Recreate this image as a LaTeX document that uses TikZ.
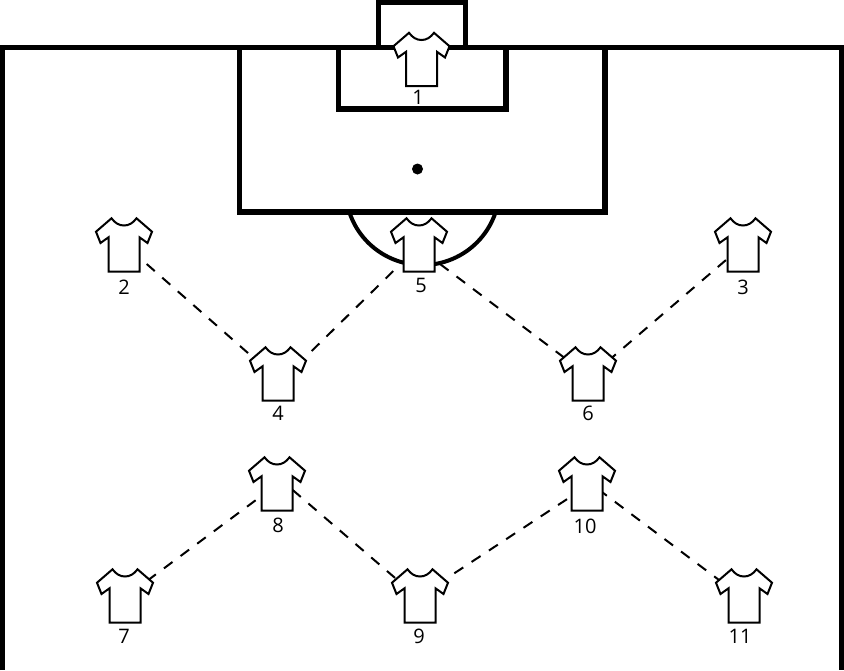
\documentclass[tikz,border=0pt]{standalone}
\usepackage{fontspec}
\setmainfont{Open Sans}
\tikzset{
  pitchline/.style={line width=5.2pt,miter limit=10},
  passline/.style={line width=2pt,dash pattern=on 10.7pt off 10pt},
  anchorpt/.style={circle,inner sep=0pt,minimum size=0pt},
  numlabel/.style={inner sep=0pt,font=\fontsize{20}{22}\selectfont},
  shirt/.pic={
    \draw[line width=2pt,fill=white,line join=miter]
      (-12.5,-26.7) .. controls (-9,-22) and (-5,-19.5) .. (0,-19.5)
      .. controls (5,-19.5) and (9,-22) .. (12.5,-26.7)
      -- (28,-13.3) -- (23.5,-2) -- (15.5,-7.7) -- (15.5,26.7)
      -- (-15.5,26.7) -- (-15.5,-7.7) -- (-23.5,-2) -- (-28,-13.3) -- cycle;
  }
}
\begin{document}
\begin{tikzpicture}[x=1pt,y=-1pt]
  \useasboundingbox (0,0) rectangle (844,670);
  % pitch
  \draw[pitchline] (2.5,670) -- (2.5,47.5) -- (842,47.5) -- (842,670);
  \draw[pitchline] (378.7,47) -- (378.7,2.3) -- (465.3,2.3) -- (465.3,47);
  \draw[pitchline] (239.5,47) -- (239.5,212) -- (605,212) -- (605,47);
  \draw[pitchline] (338.5,47) -- (338.5,109) -- (506,109) -- (506,47);
  \fill (417.5,169) circle (5.5pt);
  \draw[line width=4pt] (350,214) arc[start angle=199.7,end angle=340.3,x radius=77,y radius=-77];
  % players
  \foreach \n/\x/\y/\lx/\ly in {1/421.5/59.5/418/97,2/124/245/124/287,3/743/245/743/287,
    4/278/374/278/413,5/419/245/421/285,6/588/374/588/413,7/125/596/124/636,
    8/277/484/278/525,9/420/596/419/636,10/587/484/585/526,11/744/596/740/636}{
    \node[anchorpt] (p\n) at (\x,\y) {};
    \node[numlabel] (n\n) at (\lx,\ly) {\n};
  }
  % passing lanes
  \foreach \a/\ax/\ay/\b/\bx/\by in {2/22.7/19/4/-29.7/-20.7,4/33.7/-23/5/-25.7/26,
    5/21/19/6/-22/-15,6/19.7/-12.7/3/-17/15,7/22.3/-15.3/8/-21/16,
    8/15.7/6/9/-21.7/-15.3,9/34.3/-22.7/10/-18.7/14.3,10/11.3/5.3/11/-21/-13}{
    \draw[passline] ([shift={(\ax,\ay)}]p\a.center) -- ([shift={(\bx,\by)}]p\b.center);
  }
  \foreach \n in {1,...,11}{
    \pic at (p\n) {shirt};
  }
\end{tikzpicture}
\end{document}
